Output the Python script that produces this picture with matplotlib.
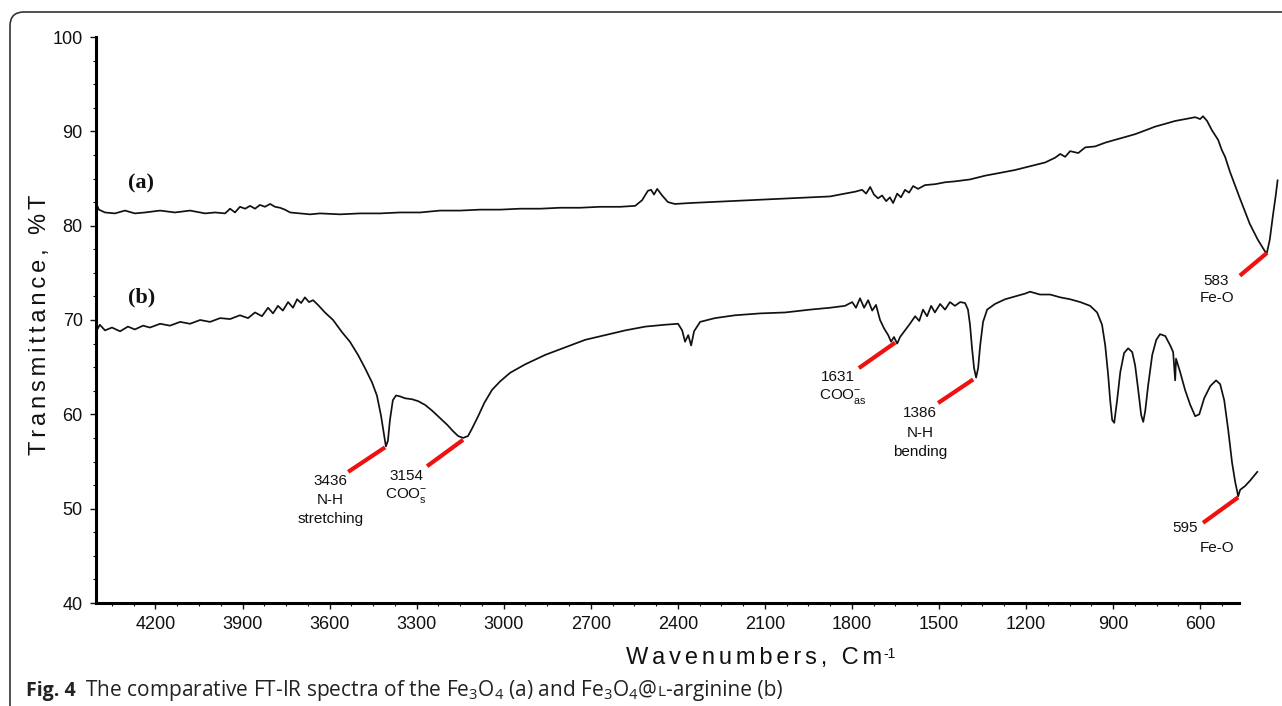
import matplotlib
matplotlib.use("Agg")
import matplotlib.pyplot as plt
from matplotlib.patches import FancyBboxPatch
from matplotlib.ticker import MultipleLocator
from matplotlib.transforms import IdentityTransform

plt.rcParams["font.family"] = ["Liberation Sans", "DejaVu Sans"]

# spectrum (a): Fe3O4  (wavenumber cm-1, transmittance %T)
a_wn = [4402, 4395, 4374, 4340, 4305, 4271, 4236, 4184, 4133, 4081,
        4029, 3995, 3960, 3943, 3926, 3909, 3891, 3874, 3857, 3840,
        3823, 3805, 3788, 3771, 3754, 3736, 3702, 3667, 3633, 3564,
        3495, 3426, 3357, 3288, 3219, 3150, 3081, 3012, 2943, 2874,
        2805, 2737, 2668, 2599, 2547, 2523, 2503, 2492, 2482, 2471,
        2454, 2434, 2410, 2358, 2289, 2220, 2151, 2082, 2013, 1944,
        1875, 1824, 1789, 1765, 1751, 1737, 1724, 1710, 1696, 1682,
        1669, 1658, 1644, 1631, 1617, 1603, 1589, 1572, 1548, 1513,
        1479, 1444, 1393, 1341, 1289, 1238, 1186, 1134, 1100, 1082,
        1065, 1048, 1020, 996, 962, 927, 893, 858, 824, 789,
        755, 720, 686, 651, 617, 600, 590, 576, 559, 538,
        525, 514, 497, 463, 429, 401, 377, 370, 360, 349,
        339, 333]
a_t = [82.2, 81.7, 81.4, 81.3, 81.6, 81.3, 81.4, 81.6, 81.4, 81.6,
       81.3, 81.4, 81.3, 81.8, 81.4, 82.0, 81.8, 82.1, 81.8, 82.2,
       82.0, 82.3, 82.0, 81.9, 81.7, 81.4, 81.3, 81.2, 81.3, 81.2,
       81.3, 81.3, 81.4, 81.4, 81.6, 81.6, 81.7, 81.7, 81.8, 81.8,
       81.9, 81.9, 82.0, 82.0, 82.1, 82.7, 83.7, 83.8, 83.3, 83.9,
       83.2, 82.5, 82.3, 82.4, 82.5, 82.6, 82.7, 82.8, 82.9, 83.0,
       83.1, 83.4, 83.6, 83.8, 83.4, 84.1, 83.3, 82.9, 83.2, 82.6,
       83.0, 82.4, 83.4, 83.0, 83.8, 83.5, 84.2, 83.9, 84.3, 84.4,
       84.6, 84.7, 84.9, 85.3, 85.6, 85.9, 86.3, 86.7, 87.2, 87.6,
       87.3, 87.9, 87.7, 88.3, 88.4, 88.8, 89.1, 89.4, 89.7, 90.1,
       90.5, 90.8, 91.1, 91.3, 91.5, 91.3, 91.6, 91.1, 90.1, 89.1,
       88.0, 87.3, 85.7, 82.9, 80.2, 78.5, 77.3, 77.1, 78.5, 81.1,
       83.3, 84.8]

# spectrum (b): Fe3O4@L-arginine
b_wn = [4402, 4392, 4374, 4350, 4322, 4295, 4271, 4243, 4219, 4184,
        4150, 4115, 4081, 4046, 4012, 3977, 3943, 3909, 3881, 3857,
        3833, 3812, 3795, 3778, 3761, 3743, 3726, 3712, 3698, 3685,
        3671, 3657, 3640, 3616, 3588, 3557, 3530, 3502, 3478, 3454,
        3437, 3423, 3412, 3406, 3399, 3392, 3382, 3371, 3357, 3340,
        3316, 3295, 3271, 3247, 3219, 3195, 3174, 3157, 3140, 3123,
        3109, 3088, 3067, 3040, 3012, 2978, 2926, 2857, 2788, 2719,
        2650, 2581, 2512, 2443, 2399, 2385, 2375, 2364, 2354, 2344,
        2323, 2272, 2203, 2116, 2030, 1944, 1875, 1824, 1799, 1786,
        1772, 1758, 1744, 1730, 1717, 1703, 1689, 1675, 1665, 1655,
        1644, 1634, 1617, 1600, 1582, 1568, 1555, 1541, 1527, 1514,
        1496, 1479, 1462, 1445, 1427, 1410, 1400, 1393, 1386, 1379,
        1372, 1365, 1358, 1348, 1334, 1307, 1272, 1238, 1203, 1186,
        1152, 1117, 1082, 1048, 1013, 979, 955, 938, 927, 917,
        910, 903, 896, 886, 875, 862, 848, 834, 824, 813,
        803, 796, 789, 779, 765, 751, 738, 720, 703, 693,
        686, 683, 669, 652, 634, 617, 603, 586, 565, 545,
        531, 517, 503, 490, 479, 472, 469, 462, 445, 427,
        403]
b_t = [68.9, 69.5, 68.9, 69.2, 68.8, 69.3, 69.0, 69.4, 69.2, 69.6,
       69.4, 69.8, 69.6, 70.0, 69.8, 70.2, 70.1, 70.5, 70.2, 70.8,
       70.4, 71.3, 70.7, 71.5, 71.0, 71.9, 71.3, 72.2, 71.8, 72.4,
       71.9, 72.1, 71.6, 70.8, 70.0, 68.7, 67.7, 66.3, 64.9, 63.4,
       62.0, 59.9, 57.8, 56.6, 57.2, 59.4, 61.5, 62.0, 61.9, 61.7,
       61.6, 61.4, 61.0, 60.4, 59.6, 58.9, 58.2, 57.7, 57.5, 57.7,
       58.5, 59.8, 61.2, 62.6, 63.5, 64.4, 65.3, 66.3, 67.1, 67.9,
       68.4, 68.9, 69.3, 69.5, 69.6, 68.9, 67.7, 68.4, 67.3, 68.8,
       69.8, 70.2, 70.5, 70.7, 70.8, 71.1, 71.3, 71.5, 71.9, 71.3,
       72.3, 71.3, 72.1, 71.0, 71.6, 70.0, 69.1, 68.4, 67.7, 68.2,
       67.5, 68.2, 68.9, 69.6, 70.4, 69.9, 71.1, 70.4, 71.5, 70.8,
       71.7, 71.1, 71.9, 71.5, 71.9, 71.8, 71.1, 69.5, 67.0, 64.9,
       63.9, 64.9, 67.3, 69.8, 71.1, 71.7, 72.2, 72.5, 72.8, 73.0,
       72.7, 72.7, 72.4, 72.2, 71.9, 71.5, 70.8, 69.5, 67.3, 64.2,
       61.5, 59.4, 59.1, 61.5, 64.5, 66.5, 67.0, 66.6, 65.2, 62.5,
       59.9, 59.2, 60.4, 63.1, 66.3, 67.9, 68.5, 68.3, 67.3, 66.6,
       63.6, 65.9, 64.5, 62.6, 61.0, 59.8, 60.0, 61.7, 63.0, 63.6,
       63.2, 61.5, 58.3, 54.9, 52.8, 51.8, 51.3, 52.0, 52.4, 53.0,
       53.9]

# red callout lines: tip on the band -> tail near the label
tips = [(3409, 56.5), (3140, 57.3), (1651, 67.6), (1382, 63.7), (469, 51.2), (370, 77.1)]
tails = [(3536, 53.9), (3264, 54.5), (1776, 64.9), (1503, 61.2), (590, 48.5), (463, 74.7)]

# band labels (wavenumber, %T, text)
band_labels = [
    (3598, 52.9, "3436"), (3598, 50.9, "N-H"), (3598, 48.9, "stretching"),
    (3336, 53.5, "3154"), (3336, 51.4, r"COO$^{\mathregular{-}}_{\mathregular{s}}$"),
    (1848, 64.0, "1631"), (1831, 61.9, r"COO$^{\mathregular{-}}_{\mathregular{as}}$"),
    (1565, 60.1, "1386"), (1565, 58.0, "N-H"), (1565, 56.0, "bending"),
    (652, 47.9, "595"), (541, 45.8, "Fe-O"),
    (545, 74.1, "583"), (541, 72.3, "Fe-O"),
]

CAPTION_FONT = "Open Sans"
INK = "#111111"


def spaced(s):
    # the scanned axis titles are letter-spaced
    return "\u2006".join(s)


fig = plt.figure(figsize=(12.82, 7.06), dpi=100)
ax = fig.add_axes([96 / 1282, 1 - 603 / 706, (1239 - 96) / 1282, (603 - 37) / 706])

ax.plot(a_wn, a_t, color=INK, lw=1.25, clip_on=False)
ax.plot(b_wn, b_t, color=INK, lw=1.25, clip_on=False)

for (x0, y0), (x1, y1) in zip(tips, tails):
    ax.plot([x0, x1], [y0, y1], color="#f01010", lw=3.0, solid_capstyle="butt",
            clip_on=False, zorder=3)

for x, y, s in band_labels:
    ax.text(x, y, s, ha="center", va="center", fontsize=11, color=INK)

ax.text(4250, 84.5, "(a)", family="Liberation Serif", weight="bold", fontsize=16,
        ha="center", va="center", color=INK)
ax.text(4247, 72.4, "(b)", family="Liberation Serif", weight="bold", fontsize=16,
        ha="center", va="center", color=INK)

ax.set_xlim(4405, 466)
ax.set_ylim(40, 100)
for side in ("top", "right"):
    ax.spines[side].set_visible(False)
for side in ("left", "bottom"):
    ax.spines[side].set_linewidth(2.2)
ax.xaxis.set_major_locator(MultipleLocator(300))
ax.xaxis.set_minor_locator(MultipleLocator(75))
ax.yaxis.set_major_locator(MultipleLocator(10))
ax.yaxis.set_minor_locator(MultipleLocator(2.5))
ax.tick_params(which="major", length=4.5, width=1.0, pad=5, labelsize=13,
               colors=INK)
ax.tick_params(which="minor", length=2.2, width=0.8, colors=INK)

# axis titles
fig.text(40 / 1282, 1 - 325 / 706, spaced("Transmittance, %T"), rotation=90,
         ha="center", va="center", fontsize=17, color=INK)
xl = fig.text(754 / 1282, 1 - 658 / 706, spaced("Wavenumbers, Cm"),
              ha="center", va="center", fontsize=17, color=INK)
ax.annotate("-1", xy=(1, 1), xycoords=xl, xytext=(1, 0), textcoords="offset points",
            ha="left", va="top", fontsize=10, color=INK)

# caption, built from pieces that share one baseline
base_y = 1 - 696 / 706
cap1 = fig.text(26 / 1282, base_y, "Fig. 4", family=CAPTION_FONT,
                weight="bold", fontsize=14, color="#222222", va="baseline")
cap2 = ax.annotate(r"The comparative FT-IR spectra of the Fe$_\mathregular{3}$O$_\mathregular{4}$"
                   r" (a) and Fe$_\mathregular{3}$O$_\mathregular{4}$@",
                   xy=(1, base_y), xycoords=(cap1, "figure fraction"),
                   xytext=(7, 0), textcoords="offset points",
                   ha="left", va="baseline", family=CAPTION_FONT, fontsize=15,
                   color="#222222")
cap3 = ax.annotate("L", xy=(1, base_y), xycoords=(cap2, "figure fraction"),
                   ha="left", va="baseline", family=CAPTION_FONT, fontsize=11,
                   color="#222222")
ax.annotate("-arginine (b)", xy=(1, base_y), xycoords=(cap3, "figure fraction"),
            ha="left", va="baseline", family=CAPTION_FONT, fontsize=15,
            color="#222222")

# card frame around the figure (open on the right and bottom)
frame = FancyBboxPatch((10, -60), 1400, 706 - 12 + 60,
                       boxstyle="round,pad=0,rounding_size=14",
                       transform=IdentityTransform(), fill=False,
                       edgecolor="#333333", lw=1.2)
fig.add_artist(frame)

fig.savefig("out.png", dpi=100)
